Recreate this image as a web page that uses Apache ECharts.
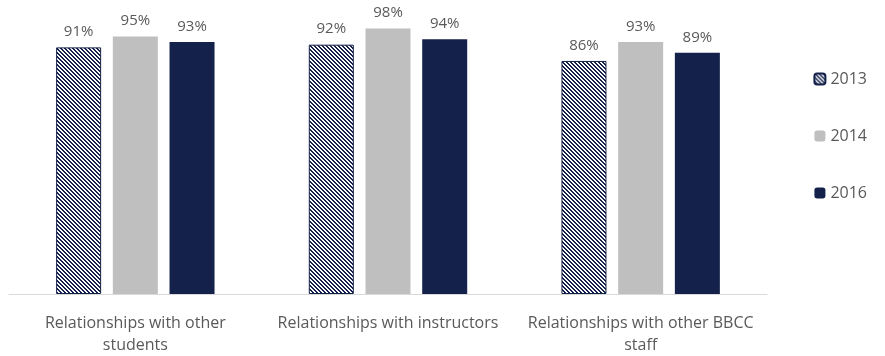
<!DOCTYPE html>
<html>
<head>
<meta charset="utf-8">
<script src="https://cdn.jsdelivr.net/npm/echarts@6/dist/echarts.min.js"></script>
<style>
  html, body { margin: 0; padding: 0; background: #ffffff; }
  #chart { width: 885px; height: 356px; }
</style>
</head>
<body>
<div id="chart"></div>
<script>
const categories = ['Relationships with other\nstudents', 'Relationships with instructors', 'Relationships with other BBCC\nstaff'];
const years = ['2013', '2014', '2016'];
const values2013 = [91, 92, 86];
const values2014 = [95, 98, 93];
const values2016 = [93, 94, 89];

const NAVY = '#14214a';
const GREY = '#bfbfbf';

// diagonal hatch fill for the 2013 bars
function makeHatch() {
  const size = 8;
  const c = document.createElement('canvas');
  c.width = size; c.height = size;
  const ctx = c.getContext('2d');
  const img = ctx.createImageData(size, size);
  for (let y = 0; y < size; y++) {
    for (let x = 0; x < size; x++) {
      const k = (((x - y) % 4) + 4) % 4;
      const dark = k < 2;
      const i = (y * size + x) * 4;
      img.data[i] = dark ? 0x14 : 255;
      img.data[i + 1] = dark ? 0x21 : 255;
      img.data[i + 2] = dark ? 0x4a : 255;
      img.data[i + 3] = 255;
    }
  }
  ctx.putImageData(img, 0, 0);
  return c;
}

const chart = echarts.init(document.getElementById('chart'));
const labelStyle = {
  show: true,
  position: 'top',
  distance: 8,
  formatter: p => p.value + '%',
  color: '#595959',
  fontFamily: 'Open Sans',
  fontSize: 15
};

chart.setOption({
  animation: false,
  grid: { left: 9, right: 118, top: 23, bottom: 57 },
  legend: {
    orient: 'vertical',
    right: 13,
    top: 66,
    itemWidth: 11,
    itemHeight: 11,
    itemGap: 41,
    data: years,
    textStyle: { color: '#595959', fontFamily: 'Open Sans', fontSize: 16 }
  },
  xAxis: {
    type: 'category',
    data: categories,
    axisLine: { lineStyle: { color: '#d9d9d9', width: 1 } },
    axisTick: { show: false },
    axisLabel: {
      color: '#595959',
      fontFamily: 'Open Sans',
      fontSize: 16,
      lineHeight: 22,
      margin: 18,
      interval: 0
    }
  },
  yAxis: {
    type: 'value',
    min: 0,
    max: 100,
    show: false,
    splitLine: { show: false }
  },
  series: [
    {
      name: years[0],
      type: 'bar',
      data: values2013,
      barWidth: 45,
      barGap: '26%',
      itemStyle: {
        color: { image: makeHatch(), repeat: 'repeat' },
        borderColor: NAVY,
        borderWidth: 1
      },
      label: labelStyle
    },
    {
      name: years[1],
      type: 'bar',
      data: values2014,
      barWidth: 45,
      barGap: '26%',
      itemStyle: { color: GREY },
      label: labelStyle
    },
    {
      name: years[2],
      type: 'bar',
      data: values2016,
      barWidth: 45,
      barGap: '26%',
      itemStyle: { color: NAVY },
      label: labelStyle
    }
  ]
});
</script>
</body>
</html>
